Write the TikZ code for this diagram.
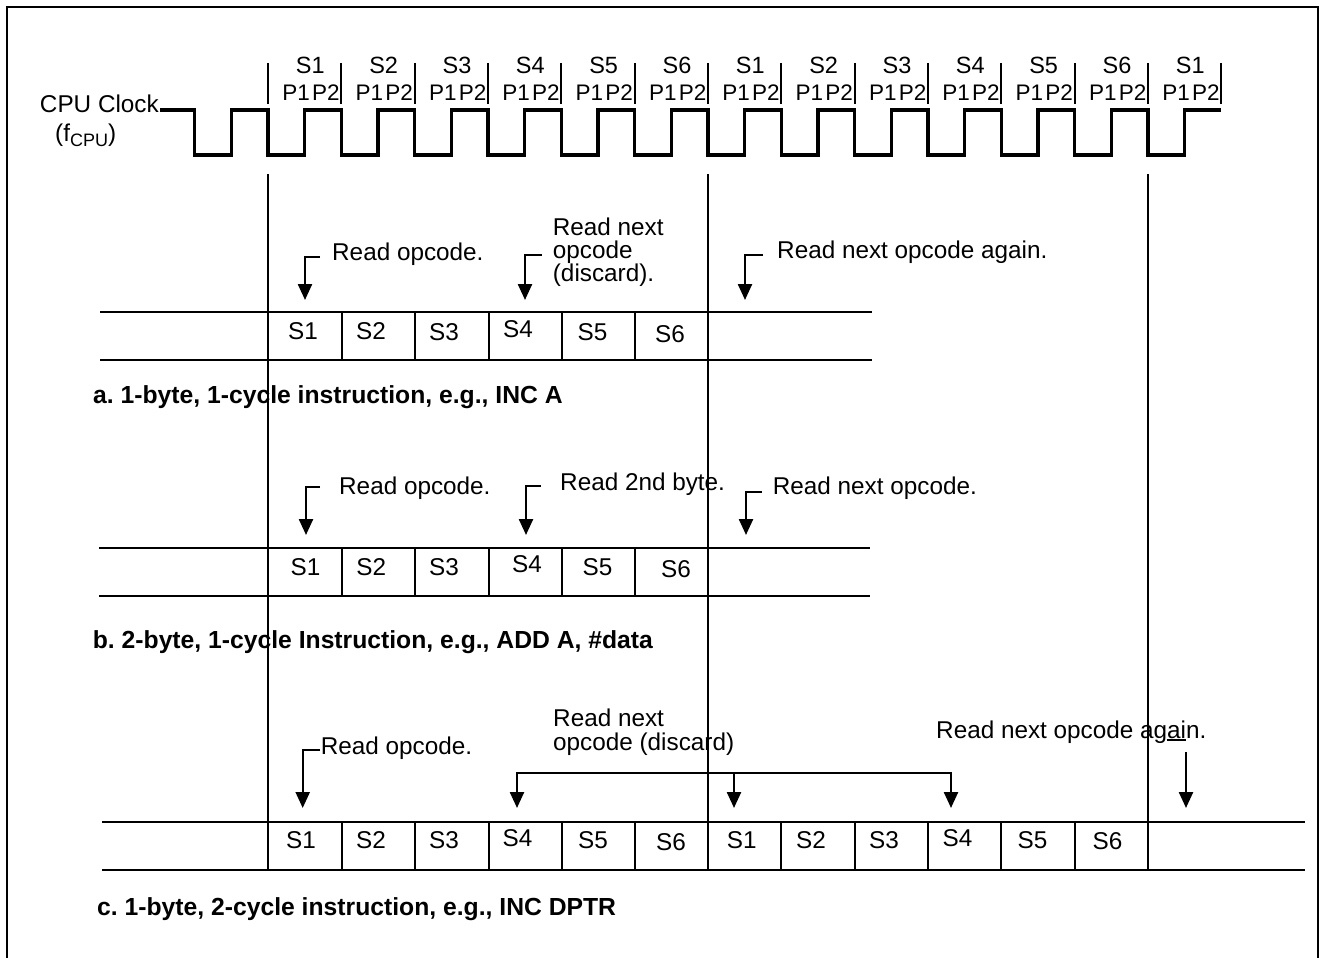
\documentclass[tikz,border=0pt]{standalone}
\usepackage{fontspec}
\setmainfont{Liberation Sans}
\usetikzlibrary{arrows.meta}
\newcommand\rgfnt{\fontsize{24.3}{26}\selectfont}
\newcommand\bdfnt{\fontsize{24.7}{27}\selectfont\bfseries}
\newcommand\clfnt{\fontsize{23.5}{26}\selectfont}
\newcommand\ppfnt{\fontsize{22.5}{25}\selectfont}
\newcommand\subfnt{\fontsize{18}{20}\selectfont}
\frenchspacing
\begin{document}
\frenchspacing
\begin{tikzpicture}[x=1pt,y=-1pt,
  txt/.style={inner sep=0pt, anchor=base west, font=\rgfnt},
  bold/.style={inner sep=0pt, anchor=base west, font=\bdfnt},
  cell/.style={inner sep=0pt, anchor=base, font=\rgfnt},
  clk/.style={line width=3.2pt, line join=miter, line cap=butt},
  rowline/.style={line width=2.7pt},
  divider/.style={line width=2.1pt},
  mainline/.style={line width=2.5pt},
  tick/.style={line width=2.1pt},
  arr/.style={line width=2.4pt, -{Triangle[length=16pt,width=14pt]}},
  ln/.style={line width=2.4pt}]
\useasboundingbox (0,0) rectangle (1323,958);
% border
\draw[line width=2pt] (7,958) -- (7,7) -- (1318,7) -- (1318,958);

% clock
\node[inner sep=0pt, anchor=base east, font=\rgfnt] (clk) at (159,112.7) {CPU Clock};
\node[inner sep=0pt, anchor=base west, font=\rgfnt] (fcpu) at (55,141.5) {(f\raisebox{-5pt}{\subfnt CPU})};
\draw[clk] (160,110)
  \foreach \j in {-1,...,12} {
    -- ({268+73.333*\j},110) -- ({268+73.333*\j},155)
    -- ({268+73.333*\j+36.667},155) -- ({268+73.333*\j+36.667},110)
  } -- (1221.3,110);
\foreach \j in {0,...,13} {
  \draw[tick] ({268+73.333*\j},63) -- ({268+73.333*\j},104);
}
\foreach \j/\s in {0/1,1/2,2/3,3/4,4/5,5/6,6/1,7/2,8/3,9/4,10/5,11/6,12/1} {
  \node[inner sep=0pt, anchor=base, font=\clfnt] (top\j) at ({268+73.333*(\j+1)-31},74) {S\s};
  \node[inner sep=0pt, anchor=base east, font=\ppfnt] (pp\j) at ({268+73.333*(\j+1)-1.5},100) {P1\kern2.2pt P2};
}

% main vertical lines
\draw[mainline] (268,174) -- (268,870);
\draw[mainline] (708,174) -- (708,870);
\draw[mainline] (1148,174) -- (1148,870);

% ---------- section a ----------
\draw[rowline] (100,312) -- (872,312);
\draw[rowline] (100,360) -- (872,360);
\foreach \x in {342,415.3,488.7,562,635.3} { \draw[divider] (\x,312) -- (\x,360); }
\node[cell] (a1) at (303,339) {S1};
\node[cell] (a2) at (371,339) {S2};
\node[cell] (a3) at (444,340) {S3};
\node[cell] (a4) at (518,337) {S4};
\node[cell] (a5) at (592.5,340) {S5};
\node[cell] (a6) at (670,342.7) {S6};
\node[txt] (ta1) at (332,260) {Read opcode.};
\node[txt] (ta2a) at (552.7,235) {Read next};
\node[txt] (ta2b) at (552.7,258) {opcode};
\node[txt] (ta2c) at (552.7,281.7) {(discard).};
\node[txt] (ta3) at (777,258.3) {Read next opcode again.};
\coordinate (as1) at (320,256.7); \coordinate (ae1) at (305,300);
\coordinate (as2) at (541.7,255); \coordinate (ae2) at (525,300);
\coordinate (as3) at (763,255);   \coordinate (ae3) at (745,300);
\draw[arr] (as1) -| (ae1);
\draw[arr] (as2) -| (ae2);
\draw[arr] (as3) -| (ae3);
\node[bold] (la) at (93,403.3) {a. 1-byte, 1-cycle instruction, e.g., INC A};

% ---------- section b ----------
\draw[rowline] (99,548) -- (870,548);
\draw[rowline] (99,596) -- (870,596);
\foreach \x in {342,415.3,488.7,562,635.3} { \draw[divider] (\x,548) -- (\x,596); }
\node[cell] (b1) at (305.5,575) {S1};
\node[cell] (b2) at (371.3,575) {S2};
\node[cell] (b3) at (444,575) {S3};
\node[cell] (b4) at (527,572.5) {S4};
\node[cell] (b5) at (597.5,575) {S5};
\node[cell] (b6) at (676,577) {S6};
\node[txt] (tb1) at (339,494) {Read opcode.};
\node[txt] (tb2) at (560,490) {Read 2nd byte.};
\node[txt] (tb3) at (772.7,494) {Read next opcode.};
\coordinate (bs1) at (320,486.7);   \coordinate (be1) at (306,535);
\coordinate (bs2) at (540.7,486);   \coordinate (be2) at (526,535);
\coordinate (bs3) at (761.7,491.7); \coordinate (be3) at (746,535);
\draw[arr] (bs1) -| (be1);
\draw[arr] (bs2) -| (be2);
\draw[arr] (bs3) -| (be3);
\node[bold] (lb) at (92.7,648.3) {b. 2-byte, 1-cycle Instruction, e.g., ADD A, \#data};

% ---------- section c ----------
\draw[rowline] (102,822) -- (1305,822);
\draw[rowline] (102,870) -- (1305,870);
\foreach \x in {342,415.3,488.7,562,635.3,781.3,854.7,928,1001.3,1074.7} { \draw[divider] (\x,822) -- (\x,870); }
\node[cell] (c1) at (301,848) {S1};
\node[cell] (c2) at (371,848) {S2};
\node[cell] (c3) at (444,848) {S3};
\node[cell] (c4) at (517.5,846.5) {S4};
\node[cell] (c5) at (593,848) {S5};
\node[cell] (c6) at (671,850.5) {S6};
\node[cell] (c7) at (741.7,848) {S1};
\node[cell] (c8) at (811,848) {S2};
\node[cell] (c9) at (884,848) {S3};
\node[cell] (c10) at (957.5,846.5) {S4};
\node[cell] (c11) at (1032.5,848) {S5};
\node[cell] (c12) at (1107.5,849.5) {S6};
\node[txt] (tc1) at (320.7,754.3) {Read opcode.};
\node[txt] (tc2a) at (553,726.7) {Read next};
\node[txt] (tc2b) at (553,750) {opcode (discard)};
\node[txt] (tc3) at (936,738.3) {Read next opcode again.};
\coordinate (cs1) at (320,750); \coordinate (ce1) at (302.7,808);
\draw[arr] (cs1) -| (ce1);
\coordinate (bm) at (734,773);
\coordinate (blt) at (517,808);
\coordinate (bmt) at (734,808);
\coordinate (brt) at (951,808);
\draw[arr] (bm) -| (blt);
\draw[arr] (bm) -| (brt);
\draw[arr] (bm) -- (bmt);
\coordinate (cs3) at (1166.7,740); \coordinate (cm3) at (1186,740);
\coordinate (cv3) at (1186,752);   \coordinate (ce3) at (1186,808);
\draw[ln] (cs3) -- (cm3);
\draw[arr] (cv3) -- (ce3);
\node[bold] (lc) at (97,915) {c. 1-byte, 2-cycle instruction, e.g., INC DPTR};
\end{tikzpicture}
\end{document}
